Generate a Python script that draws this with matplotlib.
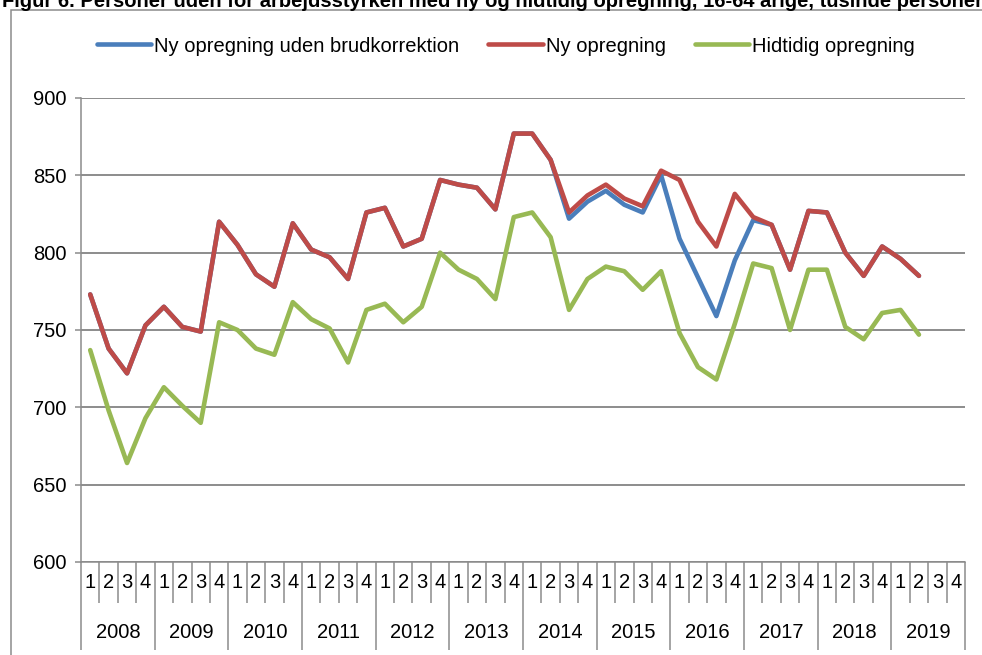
import matplotlib.pyplot as plt
from matplotlib.patches import Rectangle
from matplotlib.transforms import blended_transform_factory

plt.rcParams['font.family'] = ['Liberation Sans', 'DejaVu Sans']

years = ['2008', '2009', '2010', '2011', '2012', '2013',
         '2014', '2015', '2016', '2017', '2018', '2019']
quarters = ['1', '2', '3', '4']

# tusinde personer, 2008K1 - 2019K2
ny_opregning = [773, 738, 722, 753, 765, 752, 749, 820, 805, 786, 778, 819,
                802, 797, 783, 826, 829, 804, 809, 847, 844, 842, 828, 877,
                877, 860, 826, 837, 844, 835, 830, 853, 847, 820, 804, 838,
                823, 818, 789, 827, 826, 800, 785, 804, 796, 785]
uden_brud = [773, 738, 722, 753, 765, 752, 749, 820, 805, 786, 778, 819,
             802, 797, 783, 826, 829, 804, 809, 847, 844, 842, 828, 877,
             877, 860, 822, 833, 840, 831, 826, 850, 809, 784, 759, 795,
             821, 818, 789, 827, 826, 800, 785, 804, 796, 785]
hidtidig = [737, 698, 664, 693, 713, 701, 690, 755, 750, 738, 734, 768,
            757, 751, 729, 763, 767, 755, 765, 800, 789, 783, 770, 823,
            826, 810, 763, 783, 791, 788, 776, 788, 748, 726, 718, 754,
            793, 790, 750, 789, 789, 752, 744, 761, 763, 747]

grey = '#8c8c8c'
fs = 14.5
fig = plt.figure(figsize=(9.82, 6.55), dpi=100)
ax = fig.add_axes([81/982, 1-562/655, 884/982, 464/655])

x = list(range(len(ny_opregning)))
ax.plot(x, uden_brud, color='#4a7ebb', lw=3.3, solid_capstyle='round',
        label='Ny opregning uden brudkorrektion')
ax.plot(x, ny_opregning, color='#be4b48', lw=3.3, solid_capstyle='round',
        label='Ny opregning')
ax.plot(x, hidtidig, color='#98b954', lw=3.3, solid_capstyle='round',
        label='Hidtidig opregning')

n = len(years) * 4
ax.set_xlim(-0.5, n - 0.5)
ax.set_ylim(600, 900)
ax.set_yticks(range(600, 901, 50))
ax.yaxis.grid(True, color=grey, lw=1.4)
ax.set_axisbelow(True)
ax.tick_params(axis='y', length=4.5, width=1.1, color=grey, pad=6, labelsize=fs)

# kategori-akse med kvartaler og aar
ax.set_xticks([i * 4 - 0.5 for i in range(len(years) + 1)])
ax.set_xticks([i - 0.5 for i in range(n + 1)], minor=True)
ax.set_xticklabels([])
ax.tick_params(axis='x', which='major', length=63, width=1.1, color=grey)
ax.tick_params(axis='x', which='minor', length=29.5, width=1.1, color=grey)

trans = blended_transform_factory(ax.transData, ax.transAxes)
for i, yr in enumerate(years):
    for j, q in enumerate(quarters):
        ax.text(i * 4 + j, -21/464, q, transform=trans, ha='center', va='center',
                fontsize=fs)
    ax.text(i * 4 + 1.5, -71/464, yr, transform=trans, ha='center', va='center',
            fontsize=fs)

for s in ['top', 'right']:
    ax.spines[s].set_visible(False)
for s in ['left', 'bottom']:
    ax.spines[s].set_color(grey)
    ax.spines[s].set_linewidth(1.1)

ax.legend(loc='center', bbox_to_anchor=(506/982, 1-46/655),
          bbox_transform=fig.transFigure, ncol=3, frameon=False,
          fontsize=fs, handlelength=2.7, handletextpad=0.15, columnspacing=1.45)

# ramme og (afskaaret) titel
fig.patches.append(Rectangle((11/982, -0.1), 1.1, 1 - 10/655 + 0.1,
                             transform=fig.transFigure, fill=False,
                             edgecolor=grey, lw=1.1))
fig.text(2/982, 1 - 7/655,
         'Figur 6. Personer uden for arbejdsstyrken med ny og hidtidig opregning, 16-64 årige, tusinde personer',
         fontsize=14.5, fontweight='bold', va='baseline', ha='left')

fig.savefig('out.png', dpi=100)
